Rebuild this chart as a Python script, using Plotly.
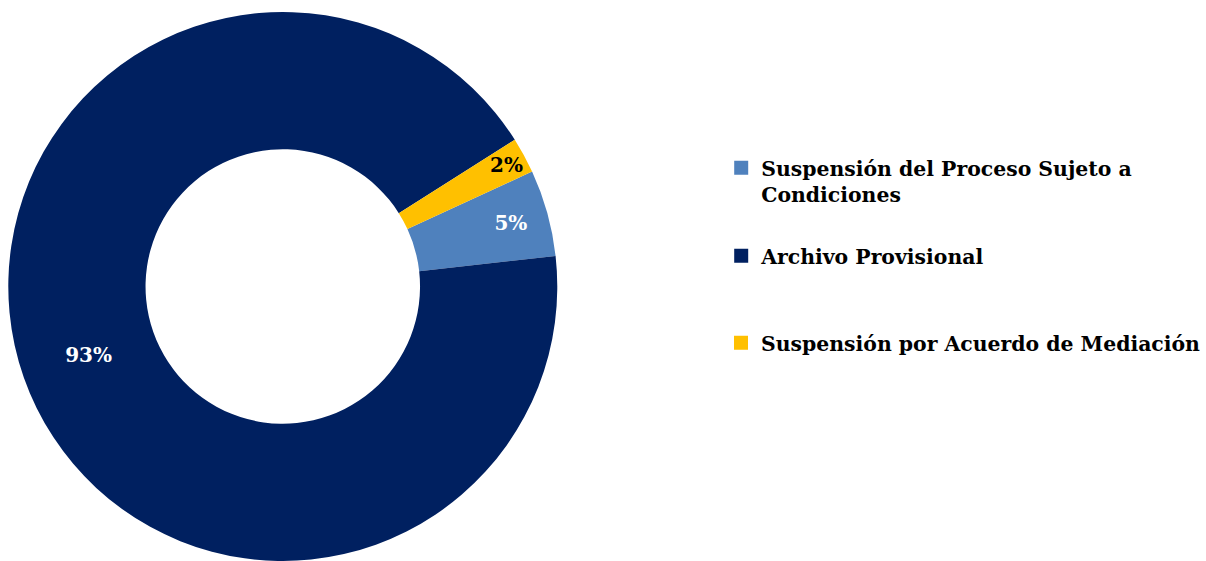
import math
import plotly.graph_objects as go

labels = ["Suspensión del Proceso Sujeto a Condiciones", "Archivo Provisional", "Suspensión por Acuerdo de Mediación"]
legend_labels = ["Suspensión del Proceso Sujeto a<br>Condiciones", "Archivo Provisional", "Suspensión por Acuerdo de Mediación"]
values = [5.1, 92.8, 2.1]
colors = ["#4F81BD", "#002060", "#FFC000"]
text_colors = ["white", "white", "black"]

FONT = "DejaVu Serif"
W, H = 1206, 561
ROT = 65.25
DOM_X = [0, 567 / W]
DOM_Y = [0, 1 - 12 / H]

total = sum(values)
pcts = [v / total for v in values]
# the smallest slice gets its label as an annotation (full size, near the outer rim)
inside_text = [f"<b>{round(p*100)}%</b>" if i != 2 else "" for i, p in enumerate(pcts)]

fig = go.Figure()
fig.add_trace(go.Pie(
    labels=labels, values=values, sort=False, direction="clockwise",
    rotation=ROT, hole=0.5,
    marker=dict(colors=colors, line=dict(width=0)),
    text=inside_text, textinfo="text", textposition="inside",
    insidetextorientation="horizontal",
    textfont=dict(family=FONT, size=20, color=text_colors),
    showlegend=False, hoverinfo="label+percent",
    domain=dict(x=DOM_X, y=DOM_Y),
))

# label for the small slice, positioned from its data-derived mid angle
cx = (DOM_X[0] + DOM_X[1]) / 2 * W
cy = (1 - (DOM_Y[0] + DOM_Y[1]) / 2) * H
R = min((DOM_X[1] - DOM_X[0]) * W, (DOM_Y[1] - DOM_Y[0]) * H) / 2
cum = sum(values[:2]) + values[2] / 2
theta = math.radians(ROT + 360 * cum / total)
r = 0.93 * R
ax_px = cx + r * math.sin(theta)
ay_px = cy - r * math.cos(theta)
fig.add_annotation(
    x=ax_px / W, y=1 - ay_px / H, xref="paper", yref="paper",
    xanchor="center", yanchor="middle",
    text=f"<b>{round(pcts[2]*100)}%</b>", showarrow=False,
    font=dict(family=FONT, size=20, color=text_colors[2]),
)

legend_y_px = [148, 236, 323]
for i, (lab, col) in enumerate(zip(legend_labels, colors)):
    key = "legend" if i == 0 else f"legend{i+1}"
    fig.add_trace(go.Scatter(
        x=[None], y=[None], mode="markers", name=f"<b>{lab}</b>",
        marker=dict(symbol="square", size=14, color=col),
        legend=key, showlegend=True, hoverinfo="skip",
    ))
    fig.update_layout(**{key: dict(
        x=723 / W, y=1 - legend_y_px[i] / H, xanchor="left", yanchor="top",
        valign="top", bgcolor="rgba(0,0,0,0)", borderwidth=0,
        font=dict(family=FONT, size=20.4, color="black"),
        itemclick=False, itemdoubleclick=False,
    )})

fig.update_layout(
    width=W, height=H,
    margin=dict(l=0, r=0, t=0, b=0),
    paper_bgcolor="white", plot_bgcolor="white",
    xaxis=dict(visible=False), yaxis=dict(visible=False),
)

fig.write_html("out.html", config={"displayModeBar": False},
               post_script="document.body.style.margin='0';")
